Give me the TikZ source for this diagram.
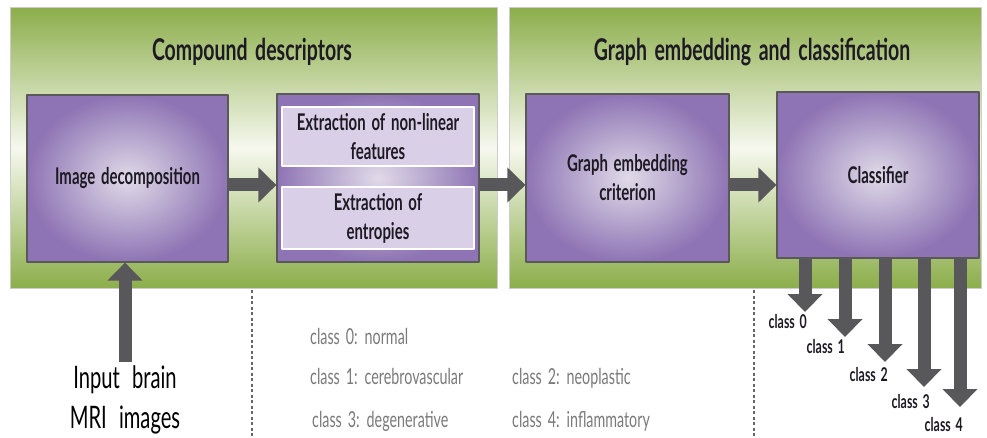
\documentclass[tikz,border=0pt]{standalone}
\usepackage{fontspec}
\newfontfamily\gill{Lato}[FakeStretch=0.65,WordSpace=1.6]
\usetikzlibrary{arrows.meta}
\definecolor{greenedge}{RGB}{140,174,75}
\definecolor{greenmid}{RGB}{246,248,238}
\definecolor{purpleout}{RGB}{142,116,180}
\definecolor{purplein}{RGB}{224,218,232}
\definecolor{lavender}{RGB}{217,208,231}
\definecolor{arrowgray}{RGB}{88,88,90}
\definecolor{legendgray}{RGB}{122,122,122}
\definecolor{textdark}{RGB}{30,26,36}

\begin{document}
\begin{tikzpicture}[x=1pt,y=-1pt,font=\gill,line join=round,
	panel/.style={draw=black!20,line width=1pt,top color=greenedge,bottom color=greenedge,middle color=greenmid,minimum width=#1,minimum height=280pt,inner sep=0pt},
	pbox/.style={draw=gray!70!black,line width=1.2pt,inner color=purplein,outer color=purpleout,text=textdark,align=center,inner sep=0pt,font=\gill\bfseries\fontsize{23}{29}\selectfont},
	subbox/.style={draw=white,line width=2pt,fill=lavender,text=textdark,align=center,inner sep=0pt,minimum width=192pt,font=\gill\bfseries\fontsize{23}{29}\selectfont},
	title/.style={text=textdark,font=\gill\bfseries\fontsize{30}{34}\selectfont},
	blockarrow/.style={draw=arrowgray,line width=13pt,-{Triangle[width=34pt,length=18pt]}},
	legend/.style={anchor=base west,text=legendgray,inner sep=0pt,font=\gill\fontsize{22}{24}\selectfont},
	clslabel/.style={anchor=east,text=textdark,inner sep=0pt,font=\gill\bfseries\fontsize{19}{22}\selectfont},
	sepline/.style={draw=black!60,line width=2.2pt,dash pattern=on 3pt off 2.5pt}]
	\useasboundingbox (0,0) rectangle (987,438);
	% panels
	\node[panel=487pt] (leftpanel) at (253.5,148) {};
	\node[panel=472pt] (rightpanel) at (745,148) {};
	\node[title] (lefttitle) at (252,52) {Compound descriptors};
	\node[title] (righttitle) at (752,52) {Graph embedding and classification};
	% boxes
	\node[pbox,minimum width=201pt,minimum height=167pt] (imgdec) at (127.5,178.5) {Image decomposition};
	\node[pbox,minimum width=202pt,minimum height=168pt] (extract) at (378,178) {};
	\node[subbox,minimum height=59pt] (nonlin) at (378,136.5) {Extraction of non-linear\\features};
	\node[subbox,minimum height=62pt] (entropy) at (378,218) {Extraction of\\entropies};
	\node[pbox,minimum width=203pt,minimum height=168pt] (graphemb) at (627.5,178) {Graph embedding\\criterion};
	\node[pbox,minimum width=202pt,minimum height=166pt] (classifier) at (878,175) {Classifier};
	% flow arrows
	\coordinate (flow) at (0,185);
	\draw[blockarrow] (imgdec.east |- flow) -- (extract.west |- flow);
	\draw[blockarrow] (extract.east |- flow) -- (graphemb.west |- flow);
	\draw[blockarrow] (graphemb.east |- flow) -- (classifier.west |- flow);
	% input
	\coordinate (mri) at (125,362);
	\draw[blockarrow] (mri) -- (imgdec.south -| mri);
	\node[align=center,text=black,font=\gill\fontsize{31}{40}\selectfont] (input) at (125,400) {Input\hspace{4pt} brain\\MRI\hspace{4pt} images};
	% outputs
	\foreach \x/\tip/\lx/\ly/\k in {805/312/807/322/0,845/337/845/347/1,885/362/888/375/2,924/387/930/402/3,960/407/963/425/4}{
		\coordinate (tip\k) at (\x,\tip);
		\draw[blockarrow] (classifier.south -| tip\k) -- (tip\k);
		\node[clslabel] (cls\k) at (\lx,\ly) {class \k};
	}
	% separators
	\coordinate (sepa) at (252,290); \coordinate (sepaend) at (252,438);
	\coordinate (sepb) at (754,290); \coordinate (sepbend) at (754,438);
	\draw[sepline] (sepa) -- (sepaend);
	\draw[sepline] (sepb) -- (sepbend);
	% legend
	\node[legend] (leg0) at (310,344) {class 0: normal};
	\node[legend] (leg1) at (310,384) {class 1: cerebrovascular};
	\node[legend] (leg2) at (512,384) {class 2: neoplastic};
	\node[legend] (leg3) at (312,427) {class 3: degenerative};
	\node[legend] (leg4) at (512,427) {class 4: inflammatory};
\end{tikzpicture}
\end{document}
